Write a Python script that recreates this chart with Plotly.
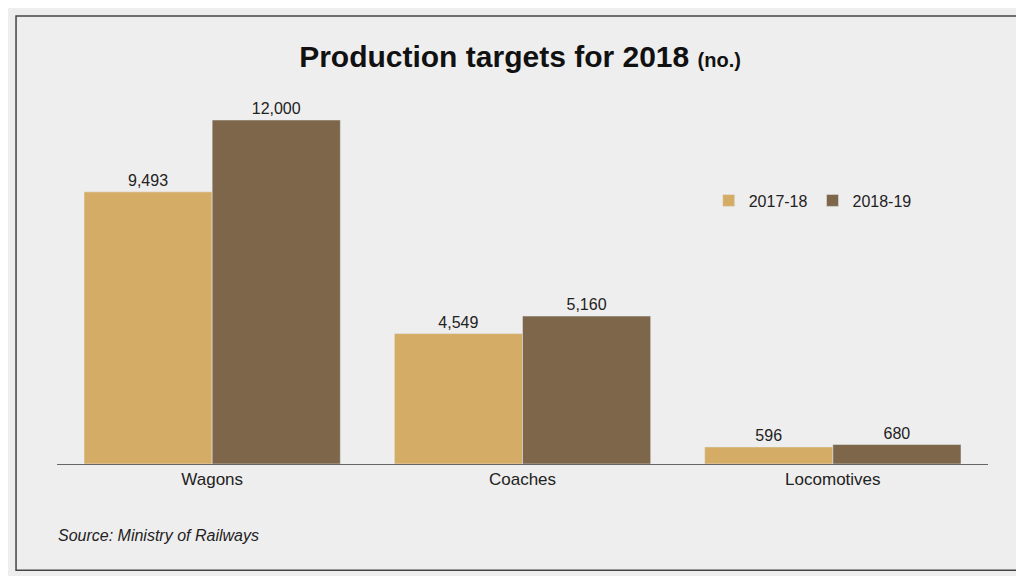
import plotly.graph_objects as go

categories = ["Wagons", "Coaches", "Locomotives"]
vals_2017 = [9493, 4549, 596]
vals_2018 = [12000, 5160, 680]

light = "#D5AC66"
dark = "#7E664A"

fig = go.Figure()
fig.add_trace(go.Bar(x=categories, y=vals_2017, name="2017-18", marker_color=light,
                     text=[f"{v:,}" for v in vals_2017], textposition="outside",
                     textfont=dict(size=16, color="#222"), cliponaxis=False))
fig.add_trace(go.Bar(x=categories, y=vals_2018, name="2018-19", marker_color=dark,
                     text=[f"{v:,}" for v in vals_2018], textposition="outside",
                     textfont=dict(size=16, color="#222"), cliponaxis=False))

fig.update_layout(
    width=1024, height=576,
    margin=dict(l=49, r=44, t=90, b=120),
    paper_bgcolor="#EFEEEE", plot_bgcolor="#EFEEEE",
    barmode="group", bargap=0.174, bargroupgap=0,
    font=dict(family="Liberation Sans Narrow, Arial Narrow, Liberation Sans", color="#222"),
    title=dict(text="<b>Production targets for 2018 <span style='font-size:20px'>(no.)</span></b>",
               x=0.5, xanchor="center", y=0.915, yanchor="middle",
               font=dict(size=30, color="#111")),
    legend=dict(orientation="h", x=0.70, y=0.72, xanchor="left", yanchor="middle",
                font=dict(size=16), bgcolor="rgba(0,0,0,0)"),
    showlegend=True,
    xaxis=dict(showline=True, linecolor="#666", linewidth=1, ticks="",
               tickfont=dict(size=17), showgrid=False),
    yaxis=dict(visible=False, range=[0, 12767]),
    shapes=[dict(type="rect", xref="paper", yref="paper",
                 x0=-0.044, x1=1.0365, y0=-0.290, y1=1.224,
                 line=dict(color="#444", width=1.5))],
    annotations=[dict(text="<i>Source: Ministry of Railways</i>", xref="paper", yref="paper",
                      x=-0.001, y=-0.195, xanchor="left", yanchor="middle",
                      showarrow=False, font=dict(size=16, color="#222"))],
)

fig.write_html("out.html")
